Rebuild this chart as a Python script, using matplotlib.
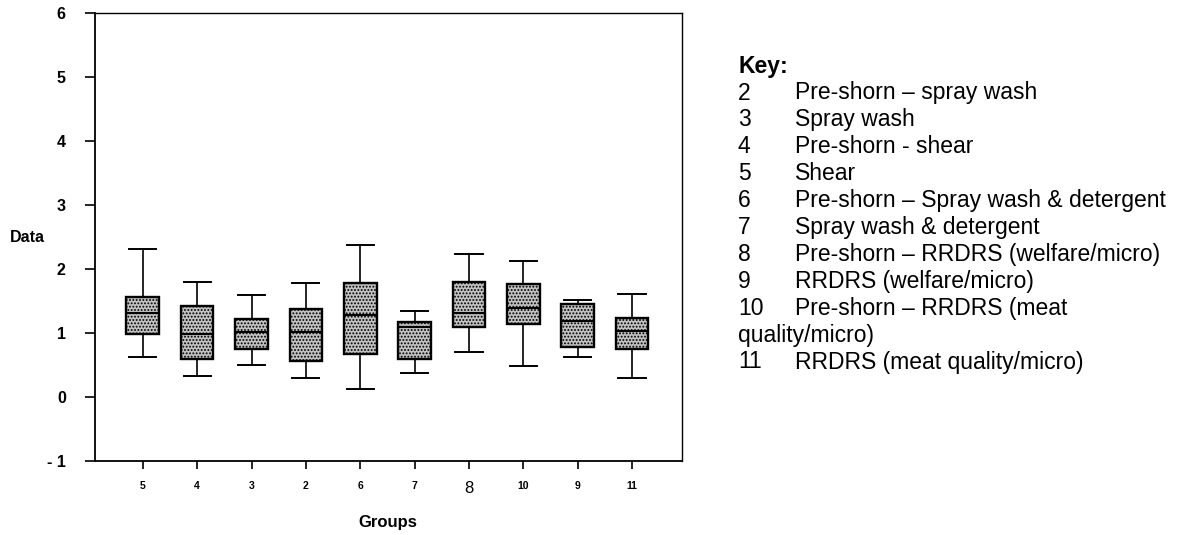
import matplotlib
matplotlib.use('Agg')
import matplotlib.pyplot as plt

plt.rcParams['font.family'] = ['Liberation Sans', 'DejaVu Sans']
plt.rcParams['hatch.color'] = '#666666'
plt.rcParams['hatch.linewidth'] = 0.9

groups = ['5', '4', '3', '2', '6', '7', '8', '10', '9', '11']
whisker_low = [0.62, 0.33, 0.50, 0.30, 0.12, 0.38, 0.70, 0.48, 0.62, 0.30]
q1 = [0.99, 0.59, 0.75, 0.57, 0.67, 0.59, 1.10, 1.15, 0.79, 0.75]
median = [1.32, 0.98, 1.01, 1.02, 1.29, 1.10, 1.31, 1.40, 1.19, 1.03]
q3 = [1.57, 1.43, 1.22, 1.38, 1.79, 1.17, 1.80, 1.77, 1.45, 1.23]
whisker_high = [2.32, 1.80, 1.60, 1.78, 2.38, 1.35, 2.23, 2.12, 1.52, 1.61]

y_ticks = [-1, 0, 1, 2, 3, 4, 5, 6]
y_labels = ['- 1', '0', '1', '2', '3', '4', '5', '6']

key_ids = ['2', '3', '4', '5', '6', '7', '8', '9', '10', '', '11']
key_text = ['Pre-shorn \u2013 spray wash', 'Spray wash', 'Pre-shorn - shear', 'Shear',
            'Pre-shorn \u2013 Spray wash & detergent', 'Spray wash & detergent',
            'Pre-shorn \u2013 RRDRS (welfare/micro)', 'RRDRS (welfare/micro)',
            'Pre-shorn \u2013 RRDRS (meat', 'quality/micro)',
            'RRDRS (meat quality/micro)']

stats = []
for i in range(len(groups)):
    stats.append({'label': groups[i], 'whislo': whisker_low[i], 'q1': q1[i],
                  'med': median[i], 'q3': q3[i], 'whishi': whisker_high[i],
                  'fliers': []})

fig = plt.figure(figsize=(11.87, 5.35), dpi=100)
ax = fig.add_axes([0.080, 0.138, 0.4946, 0.8376])

pos = list(range(1, len(groups) + 1))
bp = ax.bxp(stats, positions=pos, widths=0.6, patch_artist=True,
            boxprops=dict(facecolor='#c2c2c2', edgecolor='black', linewidth=1.7, hatch='.....'),
            medianprops=dict(color='black', linewidth=1.5),
            whiskerprops=dict(color='black', linewidth=1.2),
            capprops=dict(color='black', linewidth=1.4),
            capwidths=0.5)

ax.set_xlim(0.12, 10.92)
ax.set_ylim(-1, 6)
ax.set_yticks(y_ticks)
ax.set_yticklabels(y_labels, fontsize=11.5, fontweight='bold')
ax.set_xticks(pos)
ax.set_xticklabels(groups, fontsize=7.5, fontweight='bold')
for lab in ax.get_xticklabels():
    if lab.get_text() == '8':
        lab.set_fontsize(12)
        lab.set_fontweight('normal')
ax.tick_params(axis='y', direction='out', length=7, width=1.2, pad=14)
ax.tick_params(axis='x', direction='out', length=6, width=1.2, pad=8)
for s in ax.spines.values():
    s.set_linewidth(1.3)
ax.spines['top'].set_linewidth(1.0)
ax.spines['right'].set_linewidth(1.0)

fig.text(10 / 1187, 1 - 237 / 535, 'Data', fontsize=11.5, fontweight='bold', va='center', ha='left')
fig.text(388 / 1187, 1 - 522 / 535, 'Groups', fontsize=12, fontweight='bold', va='center', ha='center')

fs = 16.5
fig.text(738 / 1187, 1 - 67 / 535, 'Key:', fontsize=fs, fontweight='bold', va='center', ha='left')
for i in range(len(key_text)):
    y = 1 - (93 + i * 26.9) / 535
    if key_ids[i]:
        fig.text(738 / 1187, y, key_ids[i], fontsize=fs, va='center', ha='left')
        fig.text(795 / 1187, y, key_text[i], fontsize=fs, va='center', ha='left')
    else:
        fig.text(738 / 1187, y, key_text[i], fontsize=fs, va='center', ha='left')

fig.savefig('out.png', dpi=100)
